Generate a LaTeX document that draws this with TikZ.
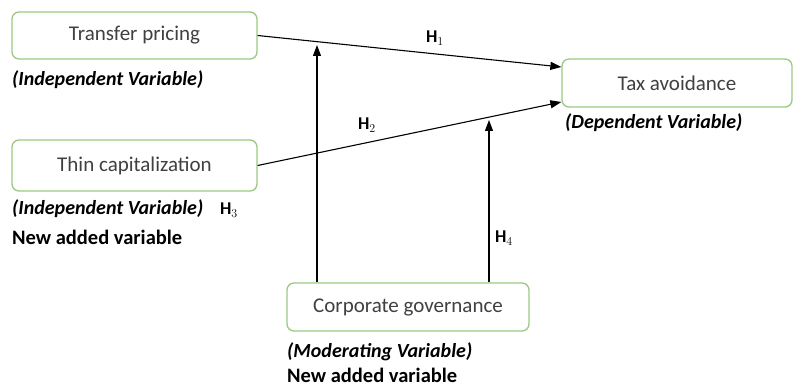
\documentclass[tikz,border=0pt]{standalone}
\usepackage{fontspec}
\setmainfont{Carlito}
\usetikzlibrary{arrows.meta}
\definecolor{boxgreen}{HTML}{9CC982}
\definecolor{boxtext}{HTML}{404040}
\tikzset{
  varbox/.style={draw=boxgreen, line width=1.3pt, rounded corners=7pt, fill=white,
    inner sep=0pt, text=boxtext, font=\fontsize{21}{24}\selectfont},
  varnote/.style={anchor=west, inner sep=0pt, font=\fontsize{20}{24}\selectfont\bfseries\itshape},
  addnote/.style={anchor=west, inner sep=0pt, font=\fontsize{20.5}{24}\selectfont\bfseries},
  hyp/.style={inner sep=0pt, font=\fontsize{18}{22}\selectfont\bfseries},
  link/.style={line width=1.1pt, -{Triangle[length=11pt,width=8pt]}}
}
\begin{document}
\begin{tikzpicture}[x=1pt,y=-1pt]
  \useasboundingbox (0,0) rectangle (794,387);
  % variables
  \node[varbox, minimum width=245pt, minimum height=47pt] (tp) at (134.5,35.5) {Transfer pricing};
  \node[varbox, minimum width=245pt, minimum height=51pt] (thin) at (134.5,165.5) {Thin capitalization};
  \node[varbox, minimum width=230pt, minimum height=48pt] (tax) at (677,83) {Tax avoidance};
  \node[varbox, minimum width=242pt, minimum height=48pt] (cg) at (408,307) {Corporate governance};
  % notes under the boxes
  \node[varnote] (tpnote) at (12,80) {(Independent Variable)};
  \node[varnote] (thinnote) at (12,209) {(Independent Variable)};
  \node[addnote] (thinadd) at (12,237) {New added variable};
  \node[varnote] (taxnote) at (565,123) {(Dependent Variable)};
  \node[varnote] (cgnote) at (287,352) {(Moderating Variable)};
  \node[addnote] (cgadd) at (287,375) {New added variable};
  % hypotheses
  \node[hyp] (h1) at (435,38) {H$_1$};
  \node[hyp] (h2) at (367,125) {H$_2$};
  \node[hyp] (h3) at (229,210) {H$_3$};
  \node[hyp] (h4) at (504,238) {H$_4$};
  % paths
  \coordinate (m1) at (317,45);
  \coordinate (m2) at (489,120);
  \draw[link] (tp.east) -- ([yshift=16pt]tax.west);
  \draw[link] (thin.east) -- ([yshift=-19pt]tax.west);
  \draw[link] (cg.north -| m1) -- (m1);
  \draw[link] (cg.north -| m2) -- (m2);
\end{tikzpicture}
\end{document}
